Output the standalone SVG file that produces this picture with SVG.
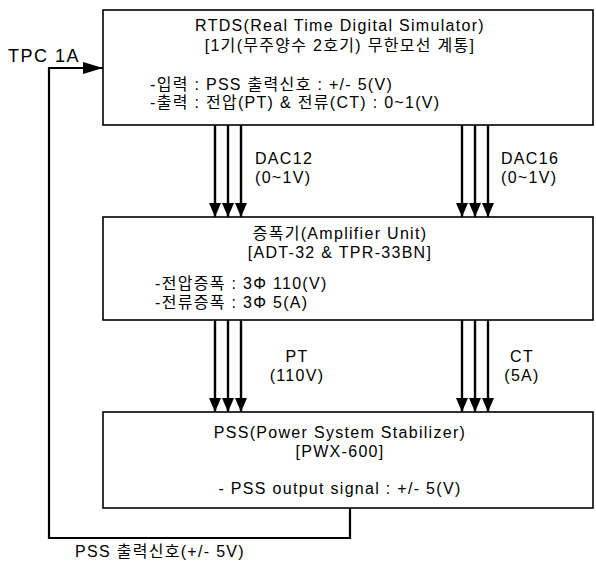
<svg xmlns="http://www.w3.org/2000/svg" width="596" height="564" viewBox="0 0 596 564">
<style>
.box{fill:#fff;stroke:#000;stroke-width:1.6}
.ln{fill:none;stroke:#000;stroke-width:2.4}
.fb{fill:none;stroke:#000;stroke-width:2.2}
.t{font-family:"Liberation Sans","Noto Sans CJK KR",sans-serif;font-size:16px;letter-spacing:1.3px;fill:#000}
.c{text-anchor:middle}
.big{font-size:18px;letter-spacing:1.5px}
</style>
<defs>
<marker id="ah" viewBox="0 0 14 12" refX="14" refY="6" markerWidth="14" markerHeight="12" markerUnits="userSpaceOnUse" orient="auto">
<path d="M0,0 L14,6 L0,12 Z" fill="#000"/>
</marker>
<marker id="ah2" viewBox="0 0 20 12" refX="20" refY="6" markerWidth="20" markerHeight="12" markerUnits="userSpaceOnUse" orient="auto">
<path d="M0,0 L20,6 L0,12 Z" fill="#000"/>
</marker>
</defs>
<g id="rtds">
<rect class="box" x="103" y="10" width="490" height="115"/>
<text class="t c" x="340" y="31">RTDS(Real Time Digital Simulator)</text>
<text class="t c" x="340" y="51">[1기(무주양수 2호기) 무한모선 계통]</text>
<text class="t" x="150" y="90">-입력 : PSS 출력신호 : +/- 5(V)</text>
<text class="t" x="150" y="108">-출력 : 전압(PT) &amp; 전류(CT) : 0~1(V)</text>
</g>
<g id="amp">
<rect class="box" x="103" y="217" width="490" height="103"/>
<text class="t c" x="340" y="239">증폭기(Amplifier Unit)</text>
<text class="t c" x="340" y="258">[ADT-32 &amp; TPR-33BN]</text>
<text class="t" x="155" y="289">-전압증폭 : 3Φ 110(V)</text>
<text class="t" x="155" y="308">-전류증폭 : 3Φ 5(A)</text>
</g>
<g id="pss">
<rect class="box" x="103" y="412" width="490" height="96"/>
<text class="t c" x="340" y="438">PSS(Power System Stabilizer)</text>
<text class="t c" x="340" y="457">[PWX-600]</text>
<text class="t c" x="340" y="494">- PSS output signal : +/- 5(V)</text>
</g>
<g id="connectors">
<path class="ln" d="M215,125 V217" marker-end="url(#ah)"/>
<path class="ln" d="M228,125 V217" marker-end="url(#ah)"/>
<path class="ln" d="M241,125 V217" marker-end="url(#ah)"/>
<path class="ln" d="M462,125 V217" marker-end="url(#ah)"/>
<path class="ln" d="M475,125 V217" marker-end="url(#ah)"/>
<path class="ln" d="M488,125 V217" marker-end="url(#ah)"/>
<path class="ln" d="M215,320 V412" marker-end="url(#ah)"/>
<path class="ln" d="M228,320 V412" marker-end="url(#ah)"/>
<path class="ln" d="M241,320 V412" marker-end="url(#ah)"/>
<path class="ln" d="M462,320 V412" marker-end="url(#ah)"/>
<path class="ln" d="M475,320 V412" marker-end="url(#ah)"/>
<path class="ln" d="M488,320 V412" marker-end="url(#ah)"/>
<path class="fb" d="M350,508 V538 H49 V68 H103" marker-end="url(#ah2)"/>
<text class="t" x="255" y="164">DAC12</text>
<text class="t" x="255" y="183">(0~1V)</text>
<text class="t" x="501" y="164">DAC16</text>
<text class="t" x="501" y="183">(0~1V)</text>
<text class="t c" x="297" y="362">PT</text>
<text class="t c" x="297" y="381">(110V)</text>
<text class="t c" x="522" y="362">CT</text>
<text class="t c" x="522" y="381">(5A)</text>
<text class="t big" x="8" y="62">TPC 1A</text>
<text class="t" x="75" y="557">PSS 출력신호(+/- 5V)</text>
</g>
</svg>
